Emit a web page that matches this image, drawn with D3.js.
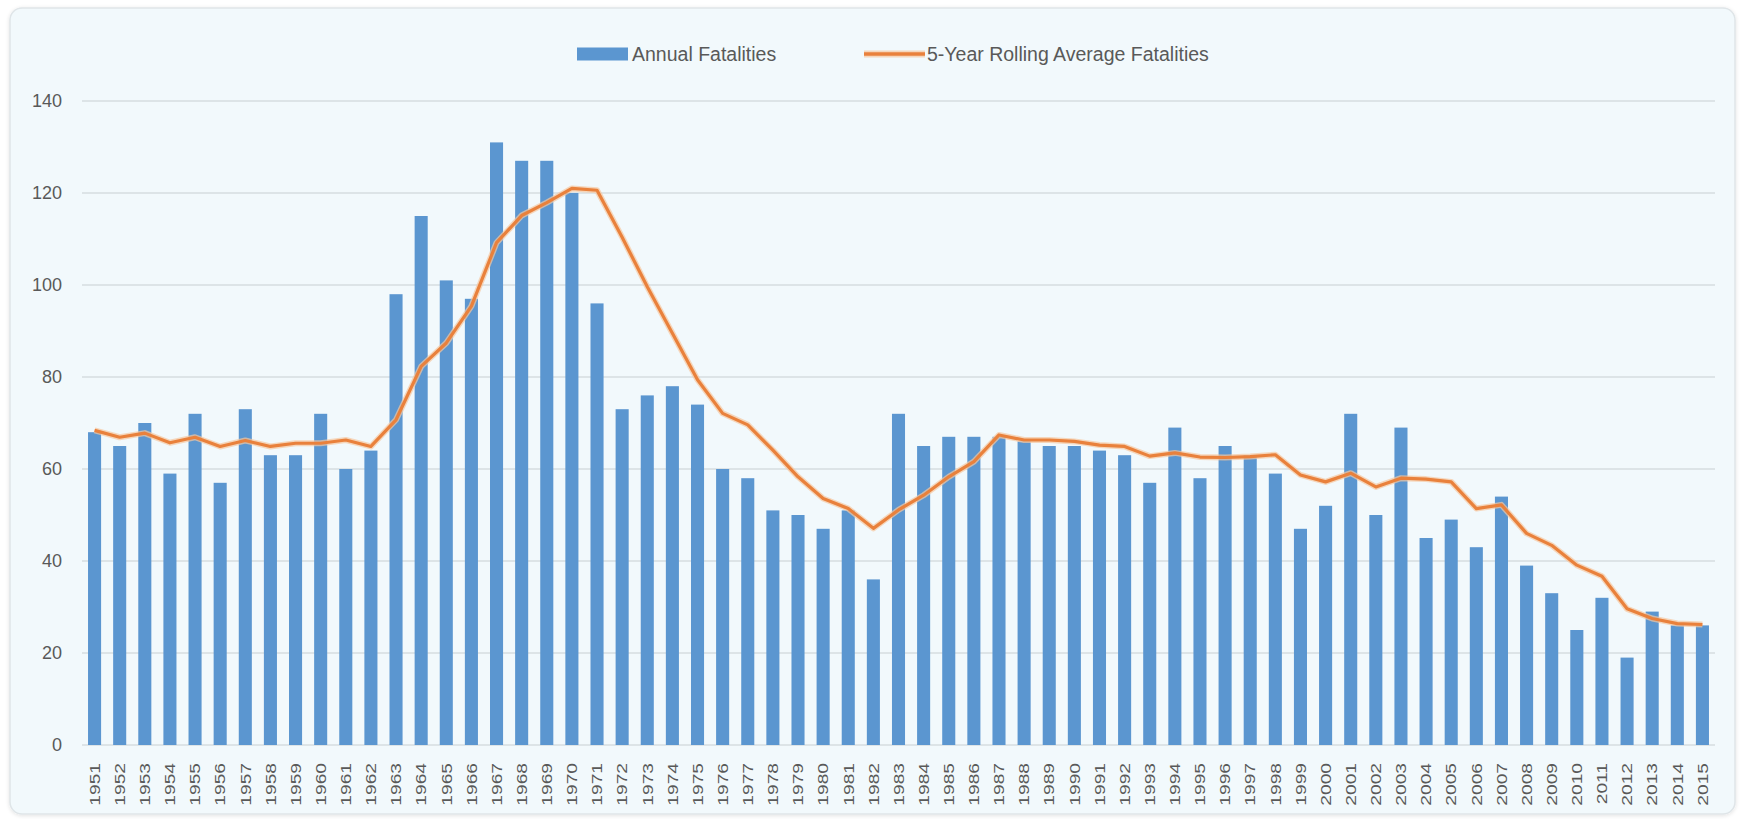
<!DOCTYPE html>
<html>
<head>
<meta charset="utf-8">
<script src="https://cdn.jsdelivr.net/npm/d3@7"></script>
<style>
  html, body { margin: 0; padding: 0; background: #ffffff; }
  svg { display: block; }
  text { font-family: "Liberation Sans", Arial, sans-serif; fill: #595959; }
</style>
</head>
<body>
<svg id="chart" width="1741" height="819"></svg>
<script>
// Years on the category axis
const years = [
  1951,1952,1953,1954,1955,1956,1957,1958,1959,1960,
  1961,1962,1963,1964,1965,1966,1967,1968,1969,1970,
  1971,1972,1973,1974,1975,1976,1977,1978,1979,1980,
  1981,1982,1983,1984,1985,1986,1987,1988,1989,1990,
  1991,1992,1993,1994,1995,1996,1997,1998,1999,2000,
  2001,2002,2003,2004,2005,2006,2007,2008,2009,2010,
  2011,2012,2013,2014,2015
];

// Fatalities recorded each year
const annualFatalities = [
  68,65,70,59,72,57,73,63,63,72,
  60,64,98,115,101,97,131,127,127,120,
  96,73,76,78,74,60,58,51,50,47,
  51,36,72,65,67,67,67,66,65,65,
  64,63,57,69,58,65,63,59,47,52,
  72,50,69,45,49,43,54,39,33,25,
  32,19,29,26,26
];

// 5-year rolling average of fatalities
const rollingAverage = [
  68.4,66.9,67.8,65.7,66.9,64.9,66.2,64.9,65.6,65.6,
  66.3,64.9,70.7,82.3,87.4,95.4,109.2,115.1,117.9,121.0,
  120.6,110.4,99.6,89.5,79.4,72.1,69.6,64.1,58.3,53.6,
  51.4,47.1,51.1,54.3,58.3,61.6,67.4,66.3,66.3,66.0,
  65.2,64.9,62.8,63.5,62.6,62.5,62.7,63.1,58.7,57.2,
  59.1,56.1,58.0,57.8,57.2,51.4,52.2,46.0,43.4,39.1,
  36.7,29.6,27.5,26.4,26.2
];

// Value axis ticks
const yTicks = [0, 20, 40, 60, 80, 100, 120, 140];

const seriesNames = ["Annual Fatalities", "5-Year Rolling Average Fatalities"];

const svg = d3.select("#chart");

// Chart panel
const defs = svg.append("defs");
const shadow = defs.append("filter").attr("id", "panelShadow")
  .attr("x", "-5%").attr("y", "-5%").attr("width", "110%").attr("height", "110%");
shadow.append("feGaussianBlur").attr("in", "SourceAlpha").attr("stdDeviation", 2);
shadow.append("feOffset").attr("dx", 0).attr("dy", 1).attr("result", "b");
shadow.append("feComponentTransfer").append("feFuncA").attr("type", "linear").attr("slope", 0.12);
const merge = shadow.append("feMerge");
merge.append("feMergeNode");
merge.append("feMergeNode").attr("in", "SourceGraphic");

svg.append("rect")
  .attr("x", 10).attr("y", 8)
  .attr("width", 1725).attr("height", 806)
  .attr("rx", 12).attr("ry", 12)
  .attr("fill", "#f2f9fc")
  .attr("stroke", "#dfe5e8")
  .attr("stroke-width", 1.5)
  .attr("filter", "url(#panelShadow)");

// Scales
const x = d3.scaleBand()
  .domain(years)
  .range([82, 1715])
  .paddingInner(0.48)
  .paddingOuter(0.24);

const y = d3.scaleLinear()
  .domain([0, 140])
  .range([745, 101]);

// Horizontal gridlines
svg.append("g")
  .selectAll("line")
  .data(yTicks)
  .join("line")
  .attr("x1", 82).attr("x2", 1715)
  .attr("y1", d => y(d)).attr("y2", d => y(d))
  .attr("stroke", "#d6dce0")
  .attr("stroke-width", 1.5);

// Value axis labels
const yAxis = d3.axisLeft(y).tickValues(yTicks).tickSize(0).tickPadding(0);
const yG = svg.append("g").attr("transform", "translate(62,0)").call(yAxis);
yG.select(".domain").remove();
yG.selectAll("text")
  .attr("font-family", "Liberation Sans, Arial, sans-serif")
  .attr("font-size", 18)
  .attr("fill", "#595959");

// Bars
svg.append("g")
  .selectAll("rect")
  .data(years)
  .join("rect")
  .attr("x", d => x(d))
  .attr("width", x.bandwidth())
  .attr("y", (d, i) => y(annualFatalities[i]))
  .attr("height", (d, i) => y(0) - y(annualFatalities[i]))
  .attr("fill", "#5b96d0");

// Rolling average line
const line = d3.line()
  .x((d, i) => x(years[i]) + x.bandwidth() / 2)
  .y(d => y(d));

svg.append("path")
  .datum(rollingAverage)
  .attr("d", line)
  .attr("fill", "none")
  .attr("stroke", "#f6c7a0")
  .attr("stroke-opacity", 0.7)
  .attr("stroke-width", 6)
  .attr("stroke-linejoin", "round");

svg.append("path")
  .datum(rollingAverage)
  .attr("d", line)
  .attr("fill", "none")
  .attr("stroke", "#e9813c")
  .attr("stroke-width", 3.2)
  .attr("stroke-linejoin", "round");

// Category axis labels (rotated)
const xAxis = d3.axisBottom(x).tickSize(0).tickPadding(0);
const xG = svg.append("g").attr("transform", "translate(0,0)").call(xAxis);
xG.select(".domain").remove();
xG.selectAll(".tick").attr("transform", d => `translate(${x(d) + x.bandwidth() / 2},763)`);
xG.selectAll("text")
  .attr("font-family", "Liberation Sans, Arial, sans-serif")
  .attr("font-size", 15)
  .attr("fill", "#595959")
  .attr("text-anchor", "end")
  .attr("x", 0).attr("y", 0)
  .attr("dy", "0.35em")
  .attr("transform", "rotate(-90) scale(1.28,1)");

// Legend
const legend = svg.append("g");
legend.append("rect")
  .attr("x", 577).attr("y", 47.5)
  .attr("width", 51).attr("height", 13)
  .attr("fill", "#5b96d0");
legend.append("text")
  .attr("x", 632).attr("y", 54).attr("dy", "0.35em")
  .attr("font-size", 19.5)
  .text(seriesNames[0]);
legend.append("line")
  .attr("x1", 864).attr("x2", 925).attr("y1", 54).attr("y2", 54)
  .attr("stroke", "#f6c7a0").attr("stroke-opacity", 0.7).attr("stroke-width", 7);
legend.append("line")
  .attr("x1", 864).attr("x2", 925).attr("y1", 54).attr("y2", 54)
  .attr("stroke", "#e9813c").attr("stroke-width", 3.5);
legend.append("text")
  .attr("x", 927).attr("y", 54).attr("dy", "0.35em")
  .attr("font-size", 19.5)
  .text(seriesNames[1]);
</script>
</body>
</html>
